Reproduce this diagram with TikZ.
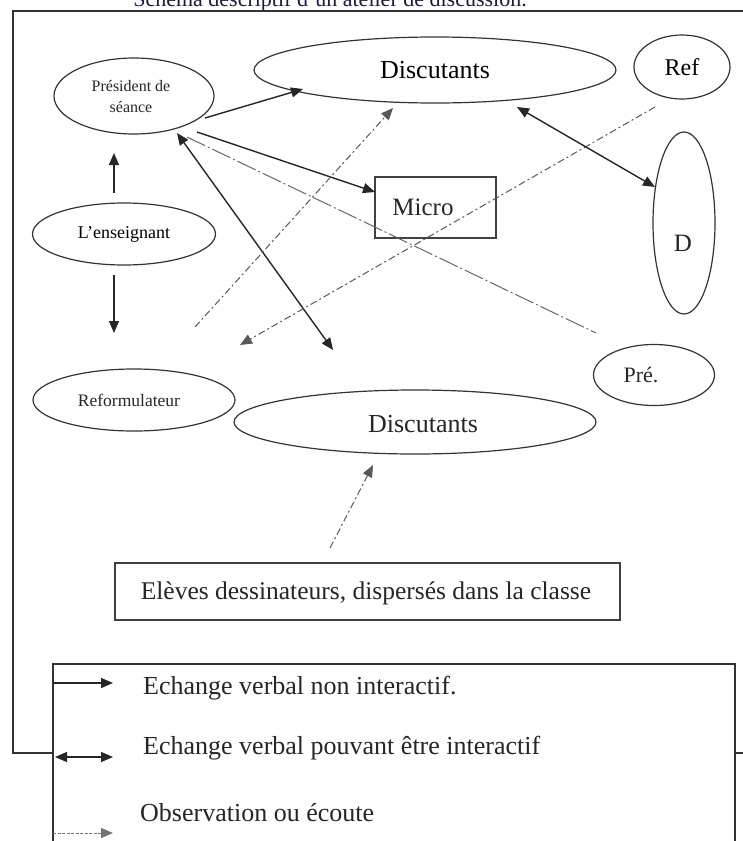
\documentclass[tikz,border=0pt]{standalone}
\usepackage{fontspec}
\setmainfont{Liberation Serif}
\usetikzlibrary{arrows.meta,shapes.geometric}
\definecolor{titleblue}{RGB}{25,25,70}
\begin{document}
\begin{tikzpicture}[x=1pt,y=-1pt,
  ell/.style={draw=black!80,line width=1.2pt,ellipse,inner sep=0pt},
  rbox/.style={draw=black!75,line width=1.4pt,rectangle,inner sep=0pt},
  txt/.style={inner sep=0pt,text=black!85},
  tipx/.style={-{Triangle[length=12pt,width=10pt]}},
  solidarr/.style={line width=1.4pt,draw=black!85,tipx},
  dblarr/.style={line width=1.4pt,draw=black!85,{Triangle[length=12pt,width=10pt]}-{Triangle[length=12pt,width=10pt]}},
  obsarr/.style={line width=1pt,draw=black!65,dash pattern=on 7pt off 3pt on 2pt off 3pt,tipx},
  longdash/.style={line width=1pt,draw=black!60,dash pattern=on 20pt off 3pt on 2pt off 3pt},
  frameline/.style={line width=1.4pt,draw=black!80}]
\useasboundingbox (0,0) rectangle (743,841);
\clip (0,0) rectangle (743,841);
\fill[white] (0,0) rectangle (743,841);

% title (cut by the top edge, as in the reference)
\node[anchor=base,inner sep=0pt,text=titleblue,font=\fontsize{22}{24}\selectfont] (title) at (330,6) {Schéma descriptif d'un atelier de discussion.};

% frame
\draw[frameline] (743,11) -- (13,11) -- (13,753) -- (53,753);
\draw[frameline] (735,753) -- (743,753);

% nodes
\node[ell,minimum width=160pt,minimum height=76pt] (pres) at (134,96) {};
\node[txt,font=\fontsize{16}{21}\selectfont,align=center] (prest) at (131,97) {Président de\\séance};
\node[ell,minimum width=362pt,minimum height=66pt,font=\fontsize{26}{28}\selectfont] (disc1) at (435,70) {Discutants};
\node[ell,minimum width=96pt,minimum height=64pt,font=\fontsize{24}{26}\selectfont] (ref) at (682,67) {Ref};
\node[rbox,minimum width=121pt,minimum height=61pt] (micro) at (435.5,207.5) {};
\node[txt,font=\fontsize{25}{28}\selectfont] (microt) at (423,207) {Micro};
\node[ell,minimum width=62pt,minimum height=182pt] (d) at (684,223) {};
\node[txt,font=\fontsize{25}{28}\selectfont] (dt) at (683,243) {D};
\node[ell,minimum width=183pt,minimum height=62pt,font=\fontsize{18}{21}\selectfont] (ens) at (124,234) {L'enseignant};
\node[ell,minimum width=202pt,minimum height=62pt] (reform) at (134,400) {};
\node[txt,font=\fontsize{17.5}{21}\selectfont] (reformt) at (129,400) {Reformulateur};
\node[ell,minimum width=362pt,minimum height=64pt] (disc2) at (415,422) {};
\node[txt,font=\fontsize{26}{28}\selectfont] (disc2t) at (423,424) {Discutants};
\node[ell,minimum width=121pt,minimum height=61pt] (pre) at (654,375) {};
\node[txt,font=\fontsize{22}{24}\selectfont] (pret) at (641,375) {Pré.};
\node[rbox,minimum width=505pt,minimum height=57pt] (eleves) at (367.5,591.5) {};
\node[txt,font=\fontsize{25.5}{28}\selectfont] (elevest) at (366,593) {Elèves dessinateurs, dispersés dans la classe};

% free ends of connectors
\coordinate (a1s) at (205,118);
\coordinate (a1e) at (303,89);
\coordinate (dbl1a) at (177,133);
\coordinate (dbl1b) at (333,350);
\coordinate (a2s) at (197,132);
\coordinate (a2e) at (375,192);
\coordinate (ld1) at (187,137);
\coordinate (ld2) at (596,333);
\coordinate (ob1s) at (195,327);
\coordinate (ob1e) at (393,108);
\coordinate (ob2s) at (655,107);
\coordinate (ob2e) at (240,345);
\coordinate (dbl2a) at (517,107);
\coordinate (dbl2b) at (655,187);
\coordinate (u1) at (114,193);
\coordinate (u2) at (114,153);
\coordinate (v1) at (114,275);
\coordinate (v2) at (114,333);
\coordinate (ob3s) at (330,548);
\coordinate (ob3e) at (373,465);

% connectors
\draw[solidarr] (a1s) -- (a1e);
\draw[dblarr] (dbl1a) -- (dbl1b);
\draw[solidarr] (a2s) -- (a2e);
\draw[longdash] (ld1) -- (ld2);
\draw[obsarr] (ob1s) -- (ob1e);
\draw[obsarr] (ob2s) -- (ob2e);
\draw[dblarr] (dbl2a) -- (dbl2b);
\draw[solidarr] (u1) -- (u2);
\draw[solidarr] (v1) -- (v2);
\draw[obsarr] (ob3s) -- (ob3e);

% legend
\draw[frameline] (53,841) -- (53,664) -- (735,664) -- (735,841);
\coordinate (l1a) at (53,683);
\coordinate (l1b) at (113,683);
\coordinate (l2a) at (55,757);
\coordinate (l2b) at (113,757);
\coordinate (l3a) at (53,833);
\coordinate (l3b) at (113,833);
\draw[solidarr] (l1a) -- (l1b);
\draw[dblarr] (l2a) -- (l2b);
\draw[line width=1pt,draw=black!55,dash pattern=on 3pt off 1.5pt,tipx] (l3a) -- (l3b);
\node[txt,anchor=west,font=\fontsize{26}{28}\selectfont] (leg1) at (143,688) {Echange verbal non interactif.};
\node[txt,anchor=west,font=\fontsize{26}{28}\selectfont] (leg2) at (143,748) {Echange verbal pouvant être interactif};
\node[txt,anchor=west,font=\fontsize{26}{28}\selectfont] (leg3) at (140,813) {Observation ou écoute};
\end{tikzpicture}
\end{document}
